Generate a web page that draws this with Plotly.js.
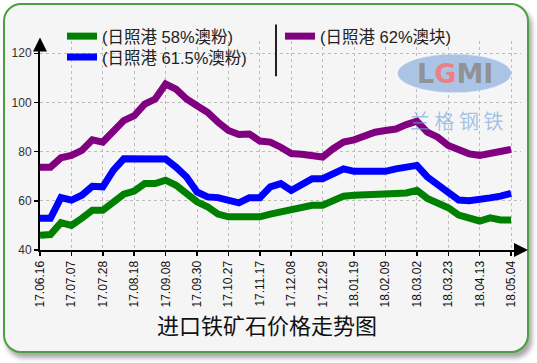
<!DOCTYPE html>
<html>
<head>
<meta charset="utf-8">
<script src="https://cdn.plot.ly/plotly-3.0.1.min.js"></script>
<style>
  html, body { margin:0; padding:0; background:#ffffff; width:537px; height:363px; overflow:hidden; }
  #frame { position:absolute; left:3px; top:3px; width:522px; height:346px; border:2px solid #4c9f42; border-radius:18px; background:#f5f5f5; box-shadow:3px 5px 5px rgba(0,0,0,0.35); }
  #chart { position:absolute; left:0; top:0; width:537px; height:363px; }
</style>
</head>
<body>
<div id="frame"></div>
<div id="chart"></div>
<script>
// Weekly dates (only every third is labelled)
const dates = [
  '17.06.16','17.06.23','17.06.30','17.07.07','17.07.14','17.07.21','17.07.28','17.08.04','17.08.11','17.08.18',
  '17.08.25','17.09.01','17.09.08','17.09.15','17.09.22','17.09.30','17.10.13','17.10.20','17.10.27','17.11.03',
  '17.11.10','17.11.17','17.11.24','17.12.01','17.12.08','17.12.15','17.12.22','17.12.29','18.01.05','18.01.12',
  '18.01.19','18.01.26','18.02.02','18.02.09','18.02.16','18.02.23','18.03.02','18.03.09','18.03.16','18.03.23',
  '18.03.30','18.04.06','18.04.13','18.04.20','18.04.27','18.05.04'
];
// 日照港 58%澳粉
const fines58 = [
  46.0, 46.3, 51.1, 50.0, 52.9, 56.2, 56.2, 59.6, 62.7, 64.0,
  67.0, 67.0, 68.4, 66.3, 63.2, 59.6, 57.6, 54.6, 53.5, 53.5,
  53.5, 53.5, 54.6, 55.6, 56.4, 57.3, 58.2, 58.2, 60.0, 61.9,
  62.3, 62.3, 62.3, 62.3, 63.0, 63.2, 64.3, 61.0, 59.2, 57.2,
  54.2, 53.1, 51.8, 53.1, 52.2, 52.2
];
// 日照港 61.5%澳粉
const fines615 = [
  52.9, 52.9, 61.3, 60.3, 62.3, 65.9, 65.7, 72.4, 77.1, 77.1,
  77.1, 77.1, 77.0, 73.7, 69.7, 63.6, 61.6, 61.3, 60.3, 59.2,
  61.3, 61.3, 65.7, 67.0, 64.2, 67.0, 69.0, 69.0, 71.0, 73.0,
  72.0, 72.0, 72.0, 72.0, 73.0, 74.0, 74.4, 69.7, 66.7, 63.2,
  60.3, 60.0, 60.3, 61.2, 61.9, 63.0
];
// 日照港 62%澳块
const lump62 = [
  73.7, 73.7, 77.5, 78.5, 80.5, 84.8, 83.9, 88.6, 92.6, 94.6,
  99.3, 101.4, 107.5, 105.4, 101.4, 98.7, 96.0, 92.0, 88.6, 87.0,
  87.2, 84.3, 83.9, 81.8, 79.2, 78.9, 78.0, 77.8, 81.2, 83.9,
  84.8, 86.5, 87.9, 88.6, 89.2, 91.0, 92.4, 87.9, 85.9, 82.5,
  80.5, 79.1, 78.5, 79.4, 79.8, 80.9
];
const seriesNames = ['(日照港 58%澳粉)', '(日照港 62%澳块)', '(日照港 61.5%澳粉)'];
const seriesColors = ['#008000', '#800080', '#0000ff'];
const seriesLegend = ['legend', 'legend', 'legend2'];
const yTicks = [40, 60, 80, 100, 120];
const xTickLabels = dates.filter((d, i) => i % 3 === 0);

const FONT = 'Liberation Sans, Arial, Noto Sans CJK SC, sans-serif';

// plot area in pixels (for decoration placement)
const L = 40, R = 521, T = 40.6, B = 250;
const px = x => (x - L) / (R - L);
const py = y => (B - y) / (B - T);

const values = [fines58, lump62, fines615];
const traces = values.map((v, k) => ({
  type: 'scatter', mode: 'lines', x: dates, y: v, name: seriesNames[k], legend: seriesLegend[k],
  line: { color: seriesColors[k], width: 7, shape: 'linear' }
}));

const legendBase = {
  orientation: 'h', xanchor: 'left', yanchor: 'middle',
  entrywidth: 173, entrywidthmode: 'pixels',
  font: { family: FONT, size: 16.5, color: '#222' },
  bgcolor: 'rgba(0,0,0,0)', traceorder: 'normal', tracegroupgap: 0
};

const layout = {
  width: 537, height: 363,
  margin: { l: L, r: 537 - R, t: T, b: 363 - B },
  paper_bgcolor: 'rgba(0,0,0,0)', plot_bgcolor: 'rgba(0,0,0,0)',
  font: { family: FONT, size: 12, color: '#222' },
  showlegend: true,
  legend: Object.assign({}, legendBase, { x: px(62), y: py(36) }),
  legend2: Object.assign({}, legendBase, { x: px(62), y: py(57) }),
  title: {
    text: '进口铁矿石价格走势图', x: 267 / 537, xref: 'container', xanchor: 'center',
    y: 1 - 326 / 363, yref: 'container', yanchor: 'middle',
    font: { family: 'Noto Sans CJK SC, sans-serif', size: 22, color: '#111' }
  },
  xaxis: {
    type: 'category', range: [0, 45.95],
    tickmode: 'array', tickvals: xTickLabels, ticktext: xTickLabels,
    tickangle: -90, ticks: 'outside', ticklen: 4, tickwidth: 1.5, tickcolor: '#000',
    showline: true, linecolor: '#000', linewidth: 2,
    showgrid: true, gridcolor: '#bdbdbd', griddash: 'dot', gridwidth: 1,
    tickfont: { family: FONT, size: 12, color: '#111' }, zeroline: false, fixedrange: true
  },
  yaxis: {
    range: [40, 125], tickmode: 'array', tickvals: yTicks, ticktext: yTicks.map(String),
    ticks: 'outside', ticklen: 4, tickwidth: 1.5, tickcolor: '#000',
    showline: true, linecolor: '#000', linewidth: 2,
    showgrid: true, gridcolor: '#bdbdbd', griddash: 'dot', gridwidth: 1,
    tickfont: { family: FONT, size: 12, color: '#333' }, zeroline: false, fixedrange: true
  },
  shapes: [
    // watermark ellipse
    { type: 'circle', xref: 'paper', yref: 'paper', x0: px(397), x1: px(512), y0: py(93), y1: py(53),
      fillcolor: 'rgba(110,155,215,0.55)', line: { color: 'rgba(255,255,255,0.6)', width: 2 }, layer: 'below' },
    // legend column separator
    { type: 'line', xref: 'paper', yref: 'paper', x0: px(276), x1: px(276), y0: py(24), y1: py(76),
      line: { color: '#222', width: 2 } }
  ],
  annotations: [
    { xref: 'paper', yref: 'paper', x: px(455), y: py(73), xanchor: 'center', yanchor: 'middle',
      text: '<b>L<span style="color:#f07a7a">G</span>MI</b>',
      showarrow: false, font: { family: 'DejaVu Sans, sans-serif', size: 27, color: 'rgba(140,140,140,0.9)' } },
    { xref: 'paper', yref: 'paper', x: px(456), y: py(120), xanchor: 'center', yanchor: 'middle', text: '兰 格 钢 铁',
      showarrow: false, font: { family: 'Noto Sans CJK SC, sans-serif', size: 20, color: 'rgba(110,160,215,0.6)' } },
    // axis arrows
    { xref: 'paper', yref: 'paper', x: 0, y: py(37), ax: 0, ay: 12, axref: 'pixel', ayref: 'pixel',
      showarrow: true, arrowhead: 2, arrowsize: 1.4, arrowwidth: 2, arrowcolor: '#000', text: '' },
    { xref: 'paper', yref: 'paper', x: px(528), y: 0, ax: -12, ay: 0, axref: 'pixel', ayref: 'pixel',
      showarrow: true, arrowhead: 2, arrowsize: 1.4, arrowwidth: 2, arrowcolor: '#000', text: '' }
  ]
};

Plotly.newPlot('chart', traces, layout, { displayModeBar: false, staticPlot: true });
</script>
</body>
</html>
